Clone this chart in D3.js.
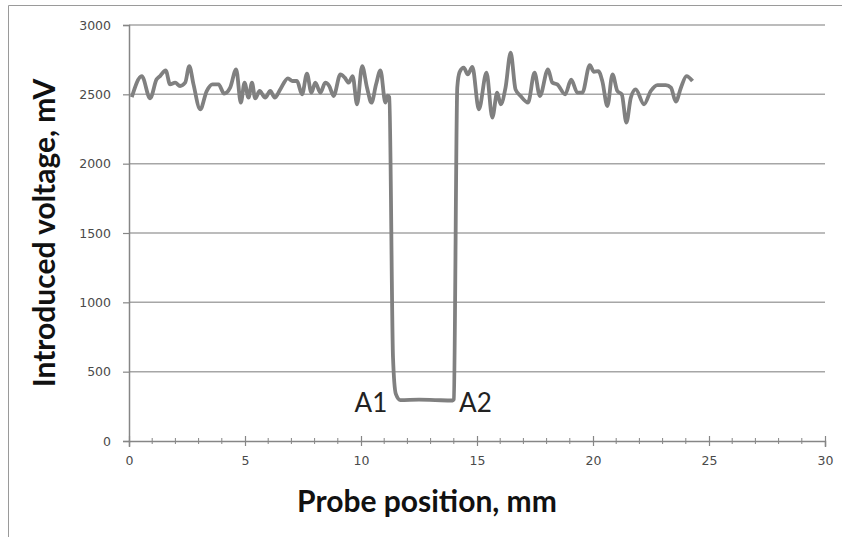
<!DOCTYPE html>
<html>
<head>
<meta charset="utf-8">
<script src="https://cdn.jsdelivr.net/npm/d3@7"></script>
<style>
  html, body { margin: 0; padding: 0; background: #fff; }
  svg { display: block; }
</style>
</head>
<body>
<svg id="chart" width="842" height="537"></svg>
<script>
// ---- Data ----
const positions = [
  0.12, 0.55, 0.91, 1.19, 1.34, 1.58, 1.77, 1.99, 2.2, 2.42, 2.6, 2.78, 3.07, 3.35, 3.6, 3.86,
  4.1, 4.36, 4.62, 4.82, 4.98, 5.15, 5.3, 5.44, 5.63, 5.87, 6.09, 6.28, 6.52, 6.85, 7.05, 7.24,
  7.46, 7.67, 7.86, 8.03, 8.25, 8.46, 8.63, 8.82, 9.11, 9.3, 9.47, 9.64, 9.83, 10.05, 10.26,
  10.45, 10.65, 10.84, 11.05, 11.15, 11.22, 11.38, 11.5, 11.7, 12.5, 13.2, 13.95, 14.0, 14.15,
  14.25, 14.43, 14.6, 14.8, 15.08, 15.41, 15.66, 15.87, 16.02, 16.23, 16.45, 16.66, 16.88, 17.2,
  17.48, 17.71, 18.06, 18.25, 18.46, 18.8, 19.06, 19.33, 19.54, 19.86, 20.04, 20.23, 20.4, 20.62,
  20.84, 21.05, 21.24, 21.44, 21.63, 21.84, 22.2, 22.49, 22.78, 23.14, 23.36, 23.57, 23.79,
  24.03, 24.29
];
const voltages = [
  2480, 2632, 2471, 2608, 2632, 2673, 2572, 2584, 2560, 2584, 2704, 2572, 2392, 2524, 2572, 2572,
  2505, 2548, 2680, 2440, 2584, 2476, 2584, 2471, 2524, 2476, 2524, 2476, 2536, 2615, 2596, 2596,
  2500, 2649, 2512, 2584, 2512, 2584, 2560, 2488, 2644, 2620, 2584, 2632, 2428, 2704, 2548,
  2440, 2572, 2673, 2440, 2490, 2480, 600, 340, 295, 298, 295, 292, 300, 2550,
  2660, 2692, 2644, 2697, 2392, 2656, 2332, 2512, 2428, 2548, 2800, 2536, 2488, 2440,
  2656, 2488, 2680, 2584, 2572, 2500, 2605, 2512, 2512, 2711, 2663, 2668, 2596, 2416,
  2644, 2524, 2500, 2296, 2476, 2536, 2428, 2524, 2567, 2567, 2548, 2447, 2548,
  2632, 2596
];
const xTicks = [0, 5, 10, 15, 20, 25, 30];
const xMinorTicks = d3.range(0, 31, 1);
const yTicks = [0, 500, 1000, 1500, 2000, 2500, 3000];
const xTitle = "Probe position, mm";
const yTitle = "Introduced voltage, mV";
const annotations = [
  { label: "A1", x: 11.22, v: 295, side: "left" },
  { label: "A2", x: 14.1, v: 295, side: "right" }
];

// ---- Layout ----
const svg = d3.select("#chart");
const plotLeft = 129, plotRight = 825, plotTop = 25, plotBottom = 441;
const x = d3.scaleLinear().domain([0, 30]).range([plotLeft, plotRight]);
const y = d3.scaleLinear().domain([0, 3000]).range([plotBottom, plotTop]);

// frame (left + top border)
svg.append("path")
  .attr("d", `M8.5,537 L8.5,5.5 L842,5.5`)
  .attr("fill", "none").attr("stroke", "#9a9a9a").attr("stroke-width", 1);

// gridlines
svg.append("g").selectAll("line")
  .data(yTicks.filter(d => d > 0))
  .join("line")
  .attr("x1", plotLeft).attr("x2", plotRight)
  .attr("y1", d => y(d)).attr("y2", d => y(d))
  .attr("stroke", "#a6a6a6").attr("stroke-width", 1.5);

// y axis
const yAxis = svg.append("g").attr("transform", `translate(${plotLeft},0)`)
  .call(d3.axisLeft(y).tickValues(yTicks).tickSize(6).tickPadding(12).tickFormat(d3.format("d")));
yAxis.select(".domain").attr("stroke", "#868686").attr("stroke-width", 1.5);
yAxis.selectAll(".tick line").attr("stroke", "#868686").attr("stroke-width", 1.2);
yAxis.selectAll(".tick text")
  .attr("font-family", "'DejaVu Sans', sans-serif").attr("font-size", 12.5)
  .attr("fill", "#4a4a4a");

// x axis (minor ticks)
svg.append("g").selectAll("line")
  .data(xMinorTicks.filter(d => !xTicks.includes(d)))
  .join("line")
  .attr("x1", d => x(d)).attr("x2", d => x(d))
  .attr("y1", plotBottom - 3).attr("y2", plotBottom + 3)
  .attr("stroke", "#868686").attr("stroke-width", 1);

const xAxis = svg.append("g").attr("transform", `translate(0,${plotBottom})`)
  .call(d3.axisBottom(x).tickValues(xTicks).tickSize(6).tickPadding(9).tickFormat(d3.format("d")));
xAxis.select(".domain").attr("stroke", "#868686").attr("stroke-width", 1.5);
xAxis.selectAll(".tick line").attr("y1", -5).attr("y2", 5).attr("stroke", "#868686").attr("stroke-width", 1.2);
xAxis.selectAll(".tick text")
  .attr("font-family", "'DejaVu Sans', sans-serif").attr("font-size", 12.5)
  .attr("fill", "#4a4a4a");

// data line
const line = d3.line()
  .x((d, i) => x(positions[i]))
  .y((d, i) => y(voltages[i]))
  .curve(d3.curveMonotoneX);
svg.append("path")
  .datum(voltages)
  .attr("d", line)
  .attr("fill", "none")
  .attr("stroke", "#808080")
  .attr("stroke-width", 3.8)
  .attr("stroke-linejoin", "round");

// annotations
svg.append("g").selectAll("text")
  .data(annotations)
  .join("text")
  .attr("x", d => d.side === "left" ? x(d.x) - 2 : x(d.x) + 3)
  .attr("y", d => y(d.v) + 12)
  .attr("text-anchor", d => d.side === "left" ? "end" : "start")
  .attr("font-family", "Lato, sans-serif")
  .attr("font-size", 26)
  .attr("fill", "#222")
  .text(d => d.label);

// axis titles
svg.append("text")
  .attr("x", 427).attr("y", 512)
  .attr("text-anchor", "middle")
  .attr("font-family", "Lato, sans-serif").attr("font-weight", "bold")
  .attr("font-size", 30).attr("fill", "#111")
  .text(xTitle);

svg.append("text")
  .attr("transform", `translate(55,${(plotTop + plotBottom) / 2}) rotate(-90)`)
  .attr("text-anchor", "middle")
  .attr("font-family", "Lato, sans-serif").attr("font-weight", "bold")
  .attr("font-size", 30).attr("fill", "#111")
  .text(yTitle);
</script>
</body>
</html>
